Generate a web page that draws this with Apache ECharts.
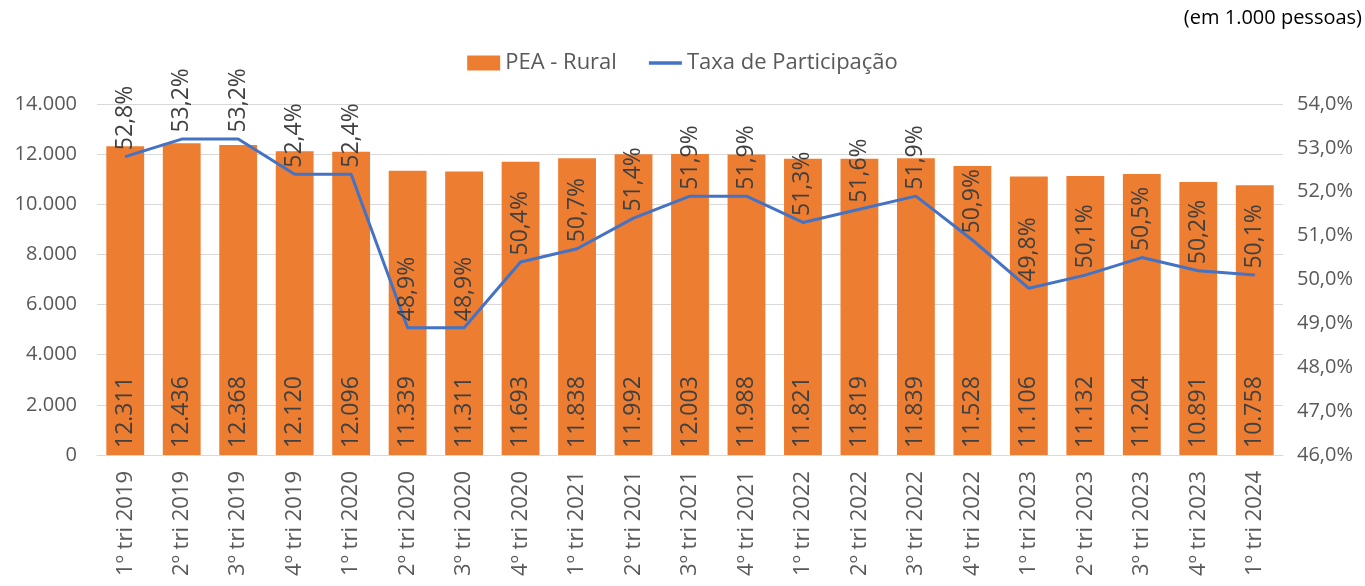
<!DOCTYPE html>
<html>
<head>
<meta charset="utf-8">
<script src="https://cdn.jsdelivr.net/npm/echarts@6/dist/echarts.min.js"></script>
<style>
html,body{margin:0;padding:0;background:#fff;}
#main{width:1365px;height:586px;}
</style>
</head>
<body>
<div id="main"></div>
<script>
// dados
var trimestres=['1º tri 2019','2º tri 2019','3º tri 2019','4º tri 2019','1º tri 2020','2º tri 2020','3º tri 2020','4º tri 2020',
	'1º tri 2021','2º tri 2021','3º tri 2021','4º tri 2021','1º tri 2022','2º tri 2022','3º tri 2022','4º tri 2022',
	'1º tri 2023','2º tri 2023','3º tri 2023','4º tri 2023','1º tri 2024'];
var peaRural=[12311,12436,12368,12120,12096,11339,11311,11693,11838,11992,12003,11988,11821,11819,11839,11528,11106,11132,11204,10891,10758];
var taxaParticipacao=[52.8,53.2,53.2,52.4,52.4,48.9,48.9,50.4,50.7,51.4,51.9,51.9,51.3,51.6,51.9,50.9,49.8,50.1,50.5,50.2,50.1];

var fonte='"Open Sans", "Noto Sans", sans-serif';

function milhar(v){
	return String(Math.round(v)).replace(/\B(?=(\d{3})+(?!\d))/g,'.');
}
function pct(v){
	return v.toFixed(1).replace('.',',')+'%';
}

var chart=echarts.init(document.getElementById('main'));
chart.setOption({
	animation:false,
	textStyle:{fontFamily:fonte},
	graphic:[{
		type:'text',right:3,top:8,
		style:{text:'(em 1.000 pessoas)',font:'20px '+fonte,fill:'#000'}
	}],
	legend:{
		top:47,left:'center',itemGap:32,itemWidth:33,itemHeight:15,
		textStyle:{fontSize:22,color:'#595959',fontFamily:fonte},
		data:[{name:'PEA - Rural',icon:'rect'},{name:'Taxa de Participação',icon:'path://M0,0 L30,0 L30,3 L0,3 Z',itemStyle:{color:'#4472C4'}}]
	},
	grid:{left:97,right:82,top:104,bottom:131},
	xAxis:{
		type:'category',data:trimestres,
		axisLine:{lineStyle:{color:'#d9d9d9'}},
		axisTick:{show:false},
		axisLabel:{rotate:90,fontSize:22,color:'#595959',margin:16,fontFamily:fonte}
	},
	yAxis:[{
		type:'value',min:0,max:14000,interval:2000,
		axisLine:{show:false},axisTick:{show:false},
		splitLine:{lineStyle:{color:'#d9d9d9'}},
		axisLabel:{fontSize:20,color:'#595959',margin:20,formatter:milhar,fontFamily:fonte}
	},{
		type:'value',min:46,max:54,interval:1,
		axisLine:{show:false},axisTick:{show:false},splitLine:{show:false},
		axisLabel:{fontSize:20,color:'#595959',margin:14,formatter:pct,fontFamily:fonte}
	}],
	series:[{
		name:'PEA - Rural',type:'bar',data:peaRural,barWidth:'67%',
		itemStyle:{color:'#ED7D31'},
		label:{show:true,position:'insideBottom',rotate:90,align:'left',verticalAlign:'middle',distance:7,
			fontSize:23,color:'#404040',formatter:function(p){return milhar(p.value);}}
	},{
		name:'Taxa de Participação',type:'line',yAxisIndex:1,data:taxaParticipacao,z:5,
		symbol:'circle',symbolSize:1,showSymbol:true,
		lineStyle:{color:'#4472C4',width:3},itemStyle:{color:'#4472C4'},
		label:{show:true,position:'top',rotate:90,align:'left',verticalAlign:'middle',distance:6,
			fontSize:23,color:'#404040',formatter:function(p){return pct(p.value);}}
	}]
});
</script>
</body>
</html>
